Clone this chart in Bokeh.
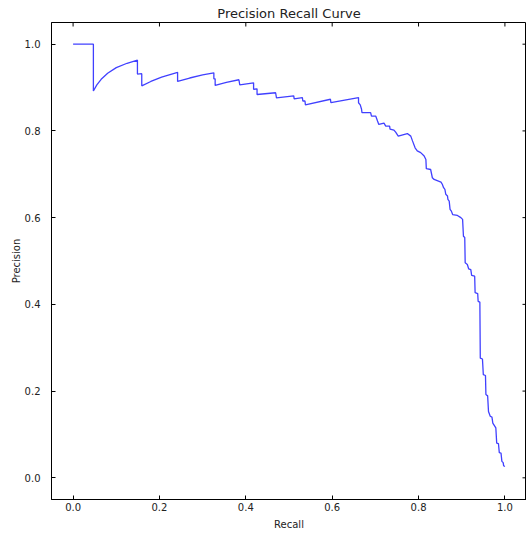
from bokeh.plotting import figure
from bokeh.models import FixedTicker, Range1d, NumeralTickFormatter
from bokeh.embed import file_html
from bokeh.resources import INLINE

recall = [0.0, 0.047, 0.047, 0.055, 0.065, 0.080, 0.100, 0.125, 0.149, 0.149,
          0.159, 0.159, 0.180, 0.205, 0.242, 0.242, 0.270, 0.300, 0.326, 0.326,
          0.329, 0.329, 0.355, 0.384, 0.386, 0.418, 0.418, 0.426, 0.426, 0.469,
          0.471, 0.511, 0.512, 0.531, 0.532, 0.537, 0.538, 0.596, 0.597, 0.661,
          0.661, 0.665, 0.668, 0.669, 0.682, 0.689, 0.691, 0.701, 0.705, 0.708,
          0.720, 0.724, 0.733, 0.734, 0.743, 0.747, 0.753, 0.774, 0.782, 0.786,
          0.792, 0.797, 0.805, 0.813, 0.817, 0.818, 0.828, 0.832, 0.836, 0.852,
          0.855, 0.858, 0.861, 0.863, 0.867, 0.868, 0.871, 0.873, 0.876, 0.879,
          0.890, 0.898, 0.902, 0.904, 0.907, 0.908, 0.913, 0.916, 0.921, 0.923,
          0.930, 0.931, 0.937, 0.938, 0.942, 0.943, 0.948, 0.950, 0.955, 0.956,
          0.960, 0.962, 0.966, 0.970, 0.972, 0.979, 0.981, 0.985, 0.987, 0.991,
          0.993, 0.996, 0.997, 1.0]
precision = [1.0, 1.0, 0.892, 0.906, 0.919, 0.933, 0.946, 0.956, 0.963, 0.931,
             0.932, 0.904, 0.914, 0.924, 0.935, 0.914, 0.922, 0.929, 0.934, 0.920,
             0.920, 0.905, 0.912, 0.918, 0.906, 0.911, 0.896, 0.897, 0.884, 0.888,
             0.876, 0.881, 0.874, 0.877, 0.869, 0.869, 0.860, 0.873, 0.865, 0.877,
             0.865, 0.860, 0.850, 0.842, 0.842, 0.842, 0.834, 0.834, 0.823, 0.815,
             0.818, 0.811, 0.811, 0.804, 0.802, 0.797, 0.788, 0.794, 0.788, 0.777,
             0.761, 0.754, 0.750, 0.742, 0.734, 0.713, 0.711, 0.692, 0.688, 0.682,
             0.677, 0.669, 0.665, 0.654, 0.650, 0.642, 0.638, 0.619, 0.615, 0.607,
             0.605, 0.600, 0.596, 0.557, 0.554, 0.496, 0.492, 0.482, 0.480, 0.467,
             0.465, 0.427, 0.425, 0.407, 0.405, 0.276, 0.274, 0.238, 0.236, 0.192,
             0.189, 0.153, 0.142, 0.140, 0.126, 0.115, 0.080, 0.079, 0.058, 0.057,
             0.038, 0.035, 0.028, 0.026]
ticks = [0.0, 0.2, 0.4, 0.6, 0.8, 1.0]
lo, hi = -0.05, 1.05

FONT = "DejaVu Sans"
TXT = "#222222"

p = figure(frame_width=475, frame_height=477,
           x_range=Range1d(lo, hi), y_range=Range1d(lo, hi),
           output_backend="svg", toolbar_location=None,
           title="Precision Recall Curve",
           min_border_left=51, min_border_right=0, min_border_top=22, min_border_bottom=0,
           x_axis_label="Recall", y_axis_label="Precision")
p.background_fill_color = "white"
p.border_fill_color = "white"
p.outline_line_color = "black"
p.outline_line_width = 1
p.grid.visible = False

p.title.align = "center"
p.title.text_font = FONT
p.title.text_font_size = "13px"
p.title.text_font_style = "normal"
p.title.text_color = TXT
p.title.standoff = 3

for ax in (p.xaxis[0], p.yaxis[0]):
    ax.ticker = FixedTicker(ticks=ticks)
    ax.formatter = NumeralTickFormatter(format="0.0")
    ax.axis_line_color = "black"
    ax.major_tick_in = 4
    ax.major_tick_out = 0
    ax.major_tick_line_color = "black"
    ax.minor_tick_line_color = None
    ax.major_label_text_font = FONT
    ax.major_label_text_font_size = "10px"
    ax.major_label_text_color = TXT
    ax.axis_label_text_font = FONT
    ax.axis_label_text_font_size = "10px"
    ax.axis_label_text_font_style = "normal"
    ax.axis_label_text_color = TXT

p.xaxis[0].major_label_standoff = 3
p.xaxis[0].axis_label_standoff = 5
p.yaxis[0].major_label_standoff = 11
p.yaxis[0].axis_label_standoff = 0

# mirrored inward ticks on the top and right edges of the frame
tlen_x = 4 * (hi - lo) / 477
tlen_y = 4 * (hi - lo) / 475
p.segment(x0=ticks, y0=[hi] * len(ticks), x1=ticks, y1=[hi - tlen_x] * len(ticks),
          line_color="black", line_width=1)
p.segment(x0=[hi] * len(ticks), y0=ticks, x1=[hi - tlen_y] * len(ticks), y1=ticks,
          line_color="black", line_width=1)

p.line(recall, precision, line_color="blue", line_width=1.3, line_alpha=0.75)

open("out.html", "w").write(file_html(p, INLINE))
